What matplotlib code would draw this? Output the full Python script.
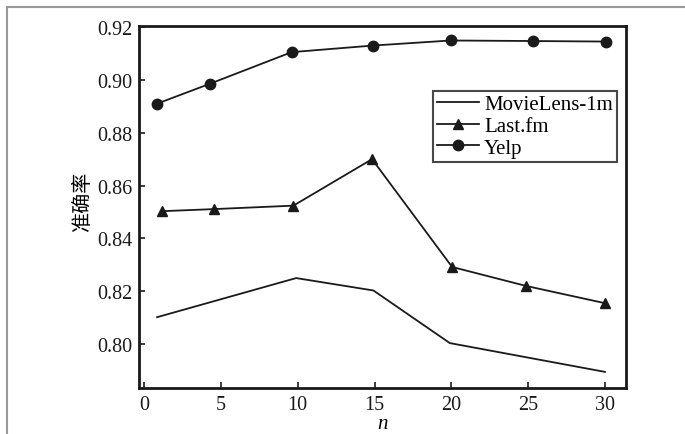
import matplotlib
matplotlib.use("Agg")
import matplotlib.pyplot as plt
from matplotlib.lines import Line2D

# Data
movielens_x = [0.85, 9.9, 14.93, 19.9, 30.0]
movielens_y = [0.8102, 0.8250, 0.8203, 0.8004, 0.7895]

lastfm_x = [1.14, 4.55, 9.72, 14.84, 20.05, 24.88, 30.0]
lastfm_y = [0.8503, 0.8511, 0.8524, 0.8700, 0.8292, 0.8220, 0.8155]

yelp_x = [0.85, 4.27, 9.61, 14.93, 19.96, 25.3, 30.08]
yelp_y = [0.8910, 0.8985, 0.9105, 0.9130, 0.9149, 0.9147, 0.9145]

xticks = [0, 5, 10, 15, 20, 25, 30]
yticks = [0.80, 0.82, 0.84, 0.86, 0.88, 0.90, 0.92]
ytick_labels = ["0.80", "0.82", "0.84", "0.86", "0.88", "0.90", "0.92"]
series_labels = ["MovieLens-1m", "Last.fm", "Yelp"]

plt.rcParams['font.family'] = ['Liberation Serif', 'DejaVu Serif']

fig = plt.figure(figsize=(6.85, 4.35), dpi=100)
ax = fig.add_axes([139/685, 1-389/435, (625.7-139)/685, (389-26.7)/435])

lw = 1.3
ax.plot(movielens_x, movielens_y, color='#1a1a1a', lw=lw, label=series_labels[0])
ax.plot(lastfm_x, lastfm_y, color='#1a1a1a', lw=lw, marker='^', markersize=6.5,
        label=series_labels[1])
ax.plot(yelp_x, yelp_y, color='#1a1a1a', lw=lw, marker='o', markersize=7.5,
        label=series_labels[2])

ax.set_xlim(-0.33, 31.35)
ax.set_ylim(0.7834, 0.9205)
ax.set_xticks(xticks)
ax.set_yticks(yticks)
ax.set_yticklabels(ytick_labels)
ax.tick_params(direction='in', length=4, width=1.2, labelsize=14.5, colors='#1a1a1a',
               top=False, right=False, pad=5)
for s in ax.spines.values():
    s.set_linewidth(2.0)
    s.set_color('#1a1a1a')

ax.set_xlabel('n', fontsize=15, style='italic', labelpad=0)
ax.set_ylabel('准确率', fontsize=14.5, family=['Noto Sans CJK SC', 'DejaVu Sans'])
ax.yaxis.set_label_coords(-0.094, 0.516)

leg = ax.legend(loc='upper left', bbox_to_anchor=(0.604, 0.8206), borderaxespad=0,
                fontsize=15, frameon=True, fancybox=False, edgecolor='#1a1a1a',
                handlelength=2.0, handletextpad=0.25, labelspacing=0.1,
                borderpad=0.2)
leg.get_frame().set_linewidth(1.5)

# Outer frame (top and left edges)
fig.add_artist(Line2D([7/685, 1.0], [1-8/435, 1-8/435], color='#999999', lw=1.5,
                      transform=fig.transFigure))
fig.add_artist(Line2D([7/685, 7/685], [0.0, 1-8/435], color='#999999', lw=1.5,
                      transform=fig.transFigure))

fig.savefig('out.png', dpi=100)
